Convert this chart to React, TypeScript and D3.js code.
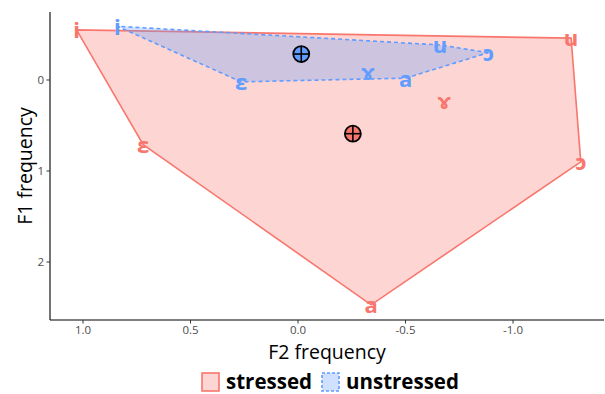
import React from 'react';
import * as d3 from 'd3';

// vowel positions (F2, F1 normalised)
const vowels = ['i', 'u', 'ɔ', 'a', 'ɛ', 'ɤ'];
const stressedF2 = [1.03, -1.27, -1.315, -0.34, 0.72, -0.68];
const stressedF1 = [-0.55, -0.46, 0.9, 2.47, 0.71, 0.23];
const unstressedF2 = [0.84, -0.66, -0.885, -0.5, 0.265, -0.325];
const unstressedF1 = [-0.59, -0.385, -0.3, -0.02, 0.02, -0.09];

const groups = ['stressed', 'unstressed'];
const meanF2 = [-0.255, -0.015];
const meanF1 = [0.59, -0.285];
const colors = ['#F8766D', '#619CFF'];

const xTicks = [1.0, 0.5, 0.0, -0.5, -1.0];
const yTicks = [0, 1, 2];

const font = '"Open Sans", "Noto Sans", sans-serif';

export default function App() {
  const width = 605;
  const height = 394;
  const left = 50, right = 604, top = 12, bottom = 320;

  const x = d3.scaleLinear().domain([1.1535, -1.423]).range([left, right]);
  const y = d3.scaleLinear().domain([-0.747, 2.637]).range([top, bottom]);

  const series = [
    { f2: stressedF2, f1: stressedF1 },
    { f2: unstressedF2, f1: unstressedF1 },
  ];

  const line = d3.line<[number, number]>().curve(d3.curveLinearClosed);

  return (
    <svg width={width} height={height} style={{ position: 'absolute', left: 0, top: 0, fontFamily: font }}>
      {series.map((s, gi) => {
        const pts = s.f2.map((v, i) => [x(v), y(s.f1[i])] as [number, number]);
        const hull = d3.polygonHull(pts) || pts;
        return (
          <path
            key={'poly' + gi}
            d={line(hull) || ''}
            fill={colors[gi]}
            fillOpacity={0.3}
            stroke={colors[gi]}
            strokeWidth={1.6}
            strokeDasharray={gi === 1 ? '4,3' : undefined}
          />
        );
      })}
      {series.map((s, gi) =>
        s.f2.map((v, i) => (
          <text
            key={'lab' + gi + i}
            x={x(v)}
            y={y(s.f1[i])}
            dy="0.38em"
            textAnchor="middle"
            fontWeight="bold"
            fontSize={22}
            fill={colors[gi]}
          >
            {vowels[i]}
          </text>
        ))
      )}
      {groups.map((g, gi) => {
        const cx = x(meanF2[gi]);
        const cy = y(meanF1[gi]);
        const r = 8;
        return (
          <g key={'mean' + g}>
            <circle cx={cx} cy={cy} r={r} fill={colors[gi]} stroke="black" strokeWidth={1.8} />
            <line x1={cx - r} x2={cx + r} y1={cy} y2={cy} stroke="black" strokeWidth={1.6} />
            <line x1={cx} x2={cx} y1={cy - r} y2={cy + r} stroke="black" strokeWidth={1.6} />
          </g>
        );
      })}

      {/* axes */}
      <line x1={left} x2={right} y1={bottom} y2={bottom} stroke="black" strokeWidth={1.1} />
      <line x1={left} x2={left} y1={top} y2={bottom} stroke="black" strokeWidth={1.1} />
      {xTicks.map((t) => (
        <g key={'xt' + t}>
          <line x1={x(t)} x2={x(t)} y1={bottom} y2={bottom + 3.5} stroke="#333" strokeWidth={1} />
          <text x={x(t)} y={bottom + 14} textAnchor="middle" fontSize={11.5} fill="#4D4D4D">
            {t === 0 ? '0.0' : d3.format('.1f')(t).replace('−', '-')}
          </text>
        </g>
      ))}
      {yTicks.map((t) => (
        <g key={'yt' + t}>
          <line x1={left - 3.5} x2={left} y1={y(t)} y2={y(t)} stroke="#333" strokeWidth={1} />
          <text x={left - 6} y={y(t)} dy="0.35em" textAnchor="end" fontSize={11.5} fill="#4D4D4D">
            {t}
          </text>
        </g>
      ))}
      <text x={(left + right) / 2} y={358.5} textAnchor="middle" fontSize={19.5} fill="black">
        F2 frequency
      </text>
      <text
        transform={`translate(32, ${(top + bottom) / 2}) rotate(-90)`}
        textAnchor="middle"
        fontSize={19.5}
        fill="black"
      >
        F1 frequency
      </text>

      {/* legend */}
      {groups.map((g, gi) => {
        const kx = gi === 0 ? 202 : 322;
        return (
          <g key={'leg' + g}>
            <rect
              x={kx}
              y={373}
              width={17}
              height={18}
              fill={colors[gi]}
              fillOpacity={0.3}
              stroke={colors[gi]}
              strokeWidth={1.6}
              strokeDasharray={gi === 1 ? '3,2' : undefined}
            />
            <text x={kx + 24} y={389} fontSize={20.5} fontWeight="bold" fill="black">
              {g}
            </text>
          </g>
        );
      })}
    </svg>
  );
}
